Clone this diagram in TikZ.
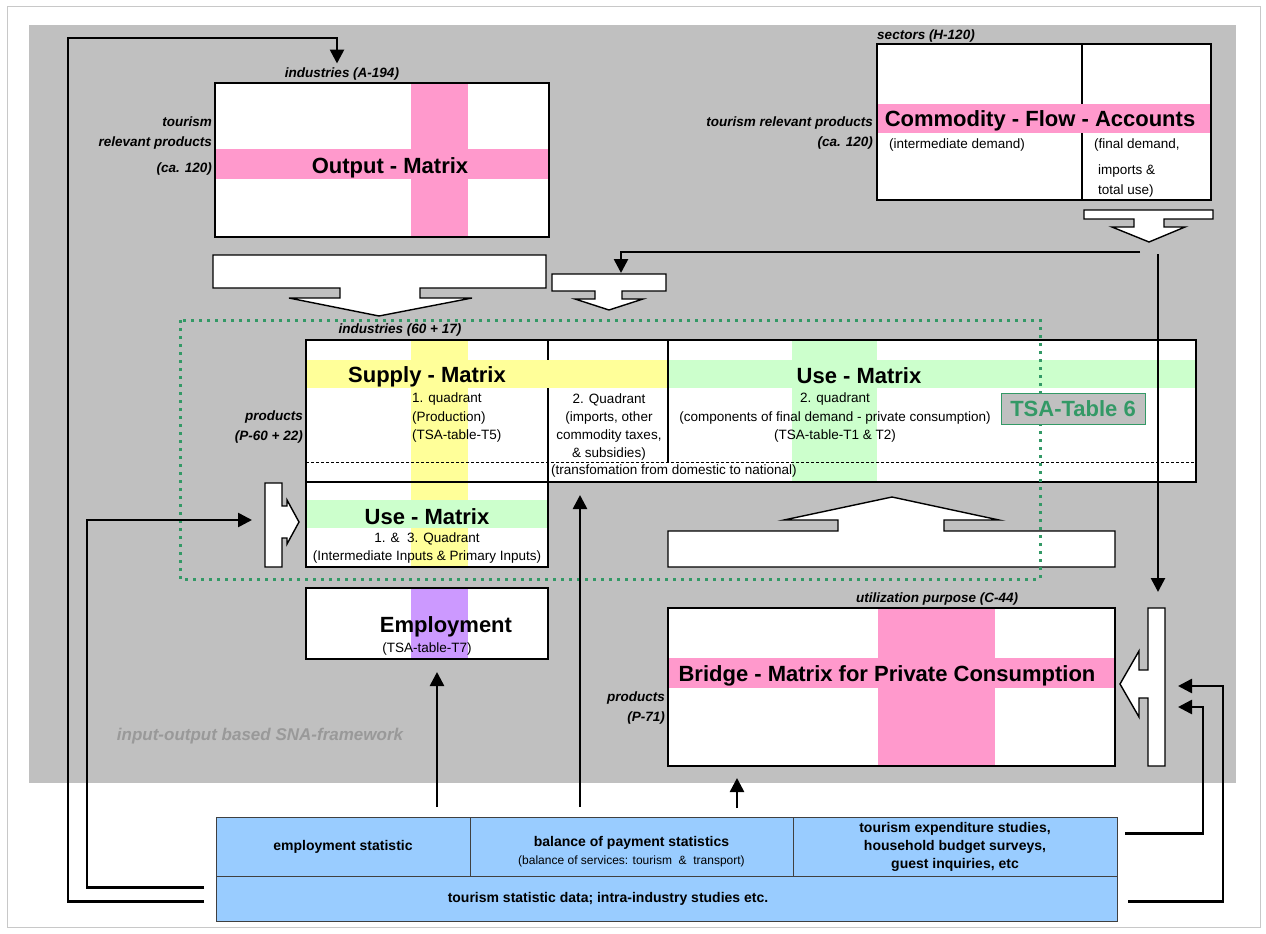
\documentclass[tikz,border=0pt]{standalone}
\usepackage{fontspec}
\setmainfont{Liberation Sans}
\usepackage{tikz}
\usetikzlibrary{arrows.meta,calc}
\usepackage{xcolor}
\definecolor{panel}{HTML}{C0C0C0}
\definecolor{rim}{HTML}{C8C8C8}
\definecolor{pinkband}{HTML}{FF99CC}
\definecolor{yellowband}{HTML}{FFFF99}
\definecolor{greenband}{HTML}{CCFFCC}
\definecolor{violetband}{HTML}{CC99FF}
\definecolor{datafill}{HTML}{99CCFF}
\definecolor{dataline}{HTML}{404040}
\definecolor{tsagreen}{HTML}{339966}
\definecolor{framework}{HTML}{999999}
\newcommand{\fsz}[2]{\fontsize{#1}{#2}\selectfont}
\tikzset{
  mat/.style={fill=white, inner sep=0pt, outer sep=0pt, anchor=north west},
  mframe/.style={draw=black, line width=2.6pt},
  title/.style={font=\fsz{22}{26}\bfseries, inner sep=0pt},
  dimtext/.style={font=\fsz{13.5}{20}\bfseries\itshape, inner sep=0pt},
  note/.style={font=\fsz{13.5}{18.5}, align=center, inner sep=0pt},
  datacell/.style={fill=datafill, draw=dataline, line width=1pt, inner sep=0pt, outer sep=0pt,
              anchor=north west, align=center, font=\fsz{14}{18}\bfseries},
  block/.style={draw=black, fill=white, line width=1.4pt},
  flow/.style={line width=2.6pt, -{Triangle[length=14pt,width=14pt]}},
}

\begin{document}
\begin{tikzpicture}[x=1pt,y=-1pt]
\useasboundingbox (0,0) rectangle (1266,934);
\fill[white] (0,0) rectangle (1266,934);
\draw[rim, line width=1pt] (7,7) rectangle (1260,927);
\fill[panel] (29,25) rectangle (1236,783);

\node[mat, minimum width=334pt, minimum height=154pt] (out) at (215,83) {};
\fill[pinkband] (215,149) rectangle (549,179);
\fill[pinkband] (411,83) rectangle (468,237);
\draw[mframe] (out.north west) rectangle (out.south east);
\node[title] (outT) at (390,168) {Output - Matrix};

\node[mat, minimum width=334pt, minimum height=156pt] (cfa) at (877,44) {};
\draw[line width=1.2pt] (1082,44) -- (1082,200);
\fill[pinkband] (877,104) rectangle (1211,133);
\draw[mframe] (cfa.north west) rectangle (cfa.south east);
\node[title] (cfaT) at (1040,121) {Commodity - Flow - Accounts};
\node[note, anchor=west] (cfaI) at (889,145) {(intermediate demand)};
\node[note, anchor=west] (cfaF1) at (1094,145) {(final demand,};
\node[note, anchor=west] (cfaF2) at (1098,171) {imports \&};
\node[note, anchor=west] (cfaF3) at (1098,191) {total use)};

\node[mat, minimum width=890pt, minimum height=142pt] (sup) at (306,340) {};
\node[mat, minimum width=242pt, minimum height=85pt] (uselow) at (306,482) {};
\node[mat, minimum width=242pt, minimum height=71pt] (empl) at (306,588) {};
\draw[line width=1.2pt] (548,340) -- (548,482);
\fill[yellowband] (306,360) rectangle (668,388);
\fill[greenband] (668,360) rectangle (1196,388);
\fill[greenband] (792,340) rectangle (877,482);
\fill[yellowband] (411,340) rectangle (468,567);
\fill[greenband] (306,500) rectangle (548,528);
\fill[violetband] (411,588) rectangle (468,659);
\draw[line width=0.8pt, dash pattern=on 3pt off 2pt] (306,462) -- (1196,462);
\draw[line width=2.6pt] (668,340) -- (668,462);
\draw[mframe] (sup.north west) rectangle (sup.south east);
\draw[mframe] (uselow.north west) rectangle (uselow.south east);
\draw[mframe] (empl.north west) rectangle (empl.south east);
\node[title] (supT) at (427,377) {Supply - Matrix};
\node[note, align=left, anchor=west] (q1) at (412,418) {1. quadrant\\(Production)\\(TSA-table-T5)};
\node[note, font=\fsz{13.5}{18}] (q2) at (609,427) {2. Quadrant\\(imports, other\\commodity taxes,\\\& subsidies)};
\node[title] (useT) at (859,376) {Use - Matrix};
\node[note] (q2u) at (835,418) {2. quadrant\\(components of final demand - private consumption)\\(TSA-table-T1 \& T2)};
\node[note, anchor=west] (trans) at (551,471) {(transfomation from domestic to national)};
\node[title] (useL) at (427,517) {Use - Matrix};
\node[note] (q13) at (427,548) {1. \&\ \ 3. Quadrant\\(Intermediate Inputs \& Primary Inputs)};
\node[title] (emplT) at (446,627) {Employment};
\node[note] (t7) at (427,649) {(TSA-table-T7)};

\node[mat, minimum width=447pt, minimum height=158pt] (bridge) at (668,608) {};
\fill[pinkband] (668,658) rectangle (1115,688);
\fill[pinkband] (878,608) rectangle (995,766);
\draw[mframe] (bridge.north west) rectangle (bridge.south east);
\node[title] (brT) at (887,676) {Bridge - Matrix for Private Consumption};

\draw[block] (213,255) -- (546,255) -- (546,288) -- (420,288) -- (420,298) -- (472,298) -- (379,316)
  -- (289,298) -- (340,298) -- (340,288) -- (213,288) -- cycle;
\draw[block] (552,274) -- (666,274) -- (666,291) -- (622,291) -- (622,299) -- (643,299) -- (609,310)
  -- (575,299) -- (595,299) -- (595,291) -- (552,291) -- cycle;
\draw[block] (1084,210) -- (1213,210) -- (1213,219) -- (1164,219) -- (1164,227) -- (1185,227) -- (1149,242)
  -- (1112,227) -- (1134,227) -- (1134,219) -- (1084,219) -- cycle;
\draw[block] (668,567) -- (1115,567) -- (1115,531) -- (944,531) -- (944,520) -- (999,520) -- (892,497)
  -- (784,520) -- (838,520) -- (838,531) -- (668,531) -- cycle;
\draw[block] (265,483) -- (282,483) -- (282,506) -- (287,506) -- (287,500) -- (299,522) -- (287,544)
  -- (287,538) -- (282,538) -- (282,567) -- (265,567) -- cycle;
\draw[block] (1165,608) -- (1148,608) -- (1148,670) -- (1139,670) -- (1139,651) -- (1120,684) -- (1139,717)
  -- (1139,698) -- (1148,698) -- (1148,766) -- (1165,766) -- cycle;

\draw[tsagreen, line width=3pt, dash pattern=on 3pt off 5pt] (180,320) rectangle (1040,579);
\node[draw=tsagreen, line width=1pt, fill=panel, text=tsagreen, font=\fsz{22}{26}\bfseries,
  minimum width=144pt, minimum height=31pt, inner sep=0pt] (tsa) at (1073,409) {TSA-Table 6};

\node[dimtext] (indA) at (342,74) {industries (A-194)};
\node[dimtext, align=right, anchor=east] (prodA) at (212,146) {tourism\\relevant products\\[6pt](ca. 120)};
\node[dimtext] (secH) at (926,36) {sectors (H-120)};
\node[dimtext, align=right, anchor=east] (prodH) at (873,133) {tourism relevant products\\(ca. 120)};
\node[dimtext] (ind60) at (400,330) {industries (60 + 17)};
\node[dimtext, align=right, anchor=east] (prodP) at (303,427) {products\\(P-60 + 22)};
\node[dimtext] (util) at (937,599) {utilization purpose (C-44)};
\node[dimtext, align=right, anchor=east] (prodC) at (665,708) {products\\(P-71)};
\node[font=\fsz{17}{20}\bfseries\itshape, text=framework, inner sep=0pt] (sna) at (260,736)
  {input-output based SNA-framework};

\node[datacell, minimum width=254pt, minimum height=59pt] (es) at (216,817) {employment statistic};
\node[datacell, minimum width=323pt, minimum height=59pt] (bop) at (470,817)
  {\rule{0pt}{20pt}balance of payment statistics\\{\mdseries\fsz{12}{14}(balance of services: tourism \ \& \ transport)}};
\node[datacell, minimum width=324pt, minimum height=59pt] (tes) at (793,817)
  {tourism expenditure studies,\\household budget surveys,\\guest inquiries, etc};
\node[datacell, minimum width=901pt, minimum height=45pt] (tsd) at (216,876)
  {tourism statistic data; intra-industry studies etc.\hspace*{117pt}};

\coordinate (loopL) at (68,38);
\coordinate (loopIn) at (87,520);
\coordinate (blkL) at (265,520);
\coordinate (blkR) at (1165,0);
\coordinate (rInner) at (1203,707);
\coordinate (rOuter) at (1223,686);
\coordinate (cfaOut) at (1140,252);
\coordinate (cfaDown) at (1158,254);
\coordinate (smTop) at (621,274);
\coordinate (empIn) at ([xshift=10pt]empl.south);
\coordinate (supIn) at ($(sup.south west)+(274,0)$);
\coordinate (brIn) at ($(bridge.south west)+(69,0)$);

\draw[flow, shorten >=4pt] ($(tsd.west)+(-12,3)$) -| (loopL) -| ([xshift=-5pt]indA.north);
\draw[flow, shorten >=13pt] ($(tsd.west)+(-12,-11)$) -| (loopIn) -- (blkL);
\draw[flow, shorten <=10pt, shorten >=13pt] (empIn |- es.north) -- (empIn);
\draw[flow, shorten <=10pt, shorten >=13pt] (supIn |- bop.north) -- (supIn);
\draw[flow, shorten <=9pt, shorten >=12pt] (brIn |- bop.north) -- (brIn);
\draw[flow, shorten >=13pt] ($(tes.east)+(8,-13)$) -| (rInner) -- (blkR |- rInner);
\draw[flow, shorten >=13pt] ($(tsd.east)+(11,3)$) -| (rOuter) -- (blkR |- rOuter);
\draw[flow, shorten >=1pt] (cfaOut) -| (smTop);
\draw[flow, shorten >=16pt] (cfaDown) -- (cfaDown |- bridge.north);
\end{tikzpicture}
\end{document}
